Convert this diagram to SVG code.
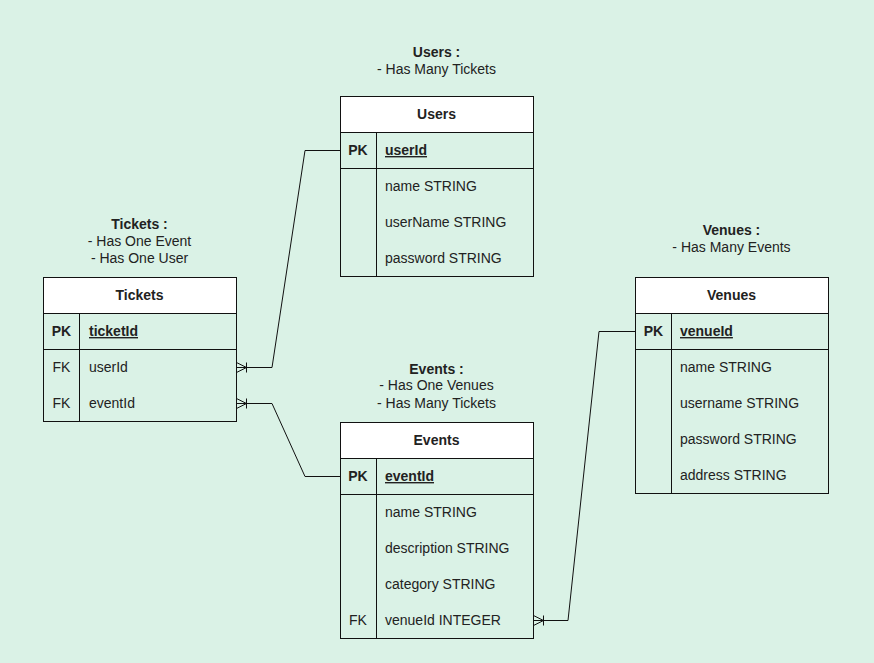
<svg xmlns="http://www.w3.org/2000/svg" width="874" height="663" viewBox="0 0 874 663">
<style>
  text { font-family: "Liberation Sans", Arial, sans-serif; font-size: 14px; fill: #222; }
  .b { font-weight: bold; }
  .c { text-anchor: middle; }
  .u { font-weight: bold; text-decoration: underline; }
  .box { fill: none; stroke: #111; stroke-width: 1; }
  .hdr { fill: #ffffff; stroke: #111; stroke-width: 1; }
  .ln { stroke: #111; stroke-width: 1; fill: none; }
  .conn { stroke: #111; stroke-width: 1; fill: none; }
</style>
<defs>
  <marker id="many" markerUnits="userSpaceOnUse" viewBox="-12 -7 14 14" refX="0" refY="0" markerWidth="14" markerHeight="14" orient="auto" overflow="visible">
    <path d="M0,-5 L-10,0 L0,5 M-10,-5 V5" fill="none" stroke="#111" stroke-width="1"/>
  </marker>
</defs>
<rect x="0" y="0" width="874" height="663" fill="#daf2e6"/>

<g id="connectors">
  <path class="conn" d="M340,150.5 H305 L272,367.5 H236.5" marker-end="url(#many)"/>
  <path class="conn" d="M340,476.5 H305 L272,403.5 H236.5" marker-end="url(#many)"/>
  <path class="conn" d="M635,331.5 H599 L568,620.5 H533.5" marker-end="url(#many)"/>
</g>

<g id="users-note">
  <text class="b c" x="436.5" y="57">Users :</text>
  <text class="c" x="436.5" y="74">- Has Many Tickets</text>
</g>
<g id="users">
  <rect class="hdr" x="340.5" y="96.5" width="193" height="36"/>
  <rect class="box" x="340.5" y="96.5" width="193" height="180"/>
  <line class="ln" x1="340.5" y1="168.5" x2="533.5" y2="168.5"/>
  <line class="ln" x1="376.5" y1="132.5" x2="376.5" y2="276.5"/>
  <text class="b c" x="436.5" y="119">Users</text>
  <text class="b c" x="358" y="155">PK</text>
  <text class="u" x="385" y="155">userId</text>
  <text x="385" y="191">name STRING</text>
  <text x="385" y="227">userName STRING</text>
  <text x="385" y="263">password STRING</text>
</g>

<g id="tickets-note">
  <text class="b c" x="139.5" y="229">Tickets :</text>
  <text class="c" x="139.5" y="246">- Has One Event</text>
  <text class="c" x="139.5" y="263">- Has One User</text>
</g>
<g id="tickets">
  <rect class="hdr" x="43.5" y="277.5" width="193" height="36"/>
  <rect class="box" x="43.5" y="277.5" width="193" height="144"/>
  <line class="ln" x1="43.5" y1="349.5" x2="236.5" y2="349.5"/>
  <line class="ln" x1="79.5" y1="313.5" x2="79.5" y2="421.5"/>
  <text class="b c" x="139.5" y="300">Tickets</text>
  <text class="b c" x="61.5" y="336">PK</text>
  <text class="u" x="89" y="336">ticketId</text>
  <text class="c" x="61.5" y="372">FK</text>
  <text x="89" y="372">userId</text>
  <text class="c" x="61.5" y="408">FK</text>
  <text x="89" y="408">eventId</text>
</g>

<g id="events-note">
  <text class="b c" x="436.5" y="374">Events :</text>
  <text class="c" x="436.5" y="390">- Has One Venues</text>
  <text class="c" x="436.5" y="408">- Has Many Tickets</text>
</g>
<g id="events">
  <rect class="hdr" x="340.5" y="422.5" width="193" height="36"/>
  <rect class="box" x="340.5" y="422.5" width="193" height="216"/>
  <line class="ln" x1="340.5" y1="494.5" x2="533.5" y2="494.5"/>
  <line class="ln" x1="376.5" y1="458.5" x2="376.5" y2="638.5"/>
  <text class="b c" x="436.5" y="445">Events</text>
  <text class="b c" x="358" y="481">PK</text>
  <text class="u" x="385" y="481">eventId</text>
  <text x="385" y="517">name STRING</text>
  <text x="385" y="553">description STRING</text>
  <text x="385" y="589">category STRING</text>
  <text class="c" x="358" y="625">FK</text>
  <text x="385" y="625">venueId INTEGER</text>
</g>

<g id="venues-note">
  <text class="b c" x="731.5" y="235">Venues :</text>
  <text class="c" x="731.5" y="252">- Has Many Events</text>
</g>
<g id="venues">
  <rect class="hdr" x="635.5" y="277.5" width="193" height="36"/>
  <rect class="box" x="635.5" y="277.5" width="193" height="216"/>
  <line class="ln" x1="635.5" y1="349.5" x2="828.5" y2="349.5"/>
  <line class="ln" x1="671.5" y1="313.5" x2="671.5" y2="493.5"/>
  <text class="b c" x="731.5" y="300">Venues</text>
  <text class="b c" x="653.5" y="336">PK</text>
  <text class="u" x="680" y="336">venueId</text>
  <text x="680" y="372">name STRING</text>
  <text x="680" y="408">username STRING</text>
  <text x="680" y="444">password STRING</text>
  <text x="680" y="480">address STRING</text>
</g>
</svg>
